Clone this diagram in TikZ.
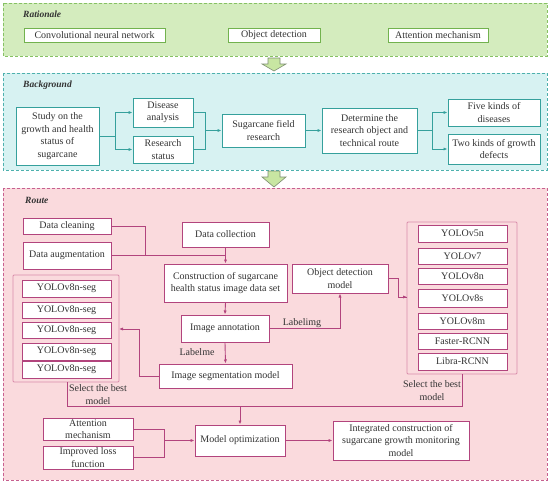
\documentclass[tikz,border=0pt]{standalone}
\usepackage{fontspec}
\setmainfont{Liberation Serif}
\usetikzlibrary{arrows.meta}
\definecolor{gfill}{HTML}{D4ECBE}
\definecolor{gline}{HTML}{86C163}
\definecolor{gbord}{HTML}{72B24E}
\definecolor{cfill}{HTML}{D7F2F2}
\definecolor{cline}{HTML}{4DB0AD}
\definecolor{cbord}{HTML}{35A09C}
\definecolor{pfill}{HTML}{FADADD}
\definecolor{pline}{HTML}{C7608F}
\definecolor{pbord}{HTML}{B2447D}
\definecolor{pgrp}{HTML}{D98DAB}
\definecolor{afill}{HTML}{C8E6A2}
\definecolor{aline}{HTML}{7E8E72}
\definecolor{txt}{HTML}{333333}
\tikzset{
  panel/.style={line width=0.8pt, dash pattern=on 3pt off 2pt},
  bx/.style={draw, fill=white, line width=1pt, inner sep=1pt, align=center, text=txt,
    font=\fontsize{10}{12.5}\selectfont},
  gbx/.style={bx, draw=gbord},
  tbx/.style={bx, draw=cbord},
  pbx/.style={bx, draw=pbord},
  ptitle/.style={anchor=west, inner sep=0pt, text=txt, font=\fontsize{9.5}{11}\selectfont\bfseries\itshape},
  lbl/.style={inner sep=0pt, text=txt, align=center, font=\fontsize{10}{12.5}\selectfont},
  tline/.style={draw=cbord, line width=0.9pt},
  tarr/.style={tline, -{Latex[length=4pt,width=3.2pt]}},
  pline/.style={draw=pbord, line width=0.9pt},
  parr/.style={pline, -{Latex[length=4pt,width=3.2pt]}},
  grp/.style={draw=pgrp, line width=0.8pt, rounded corners=1pt},
  blockarrow/.style={fill=afill, draw=aline, line width=0.6pt, line join=miter}
}
\begin{document}
\begin{tikzpicture}[x=1pt,y=-1pt]
\useasboundingbox (0,0) rectangle (550,483);
% ---------------- Rationale ----------------
\draw[panel, fill=gfill, draw=gline] (3,3) rectangle (547,56);
\node[ptitle] (trat) at (23,14) {Rationale};
\node[gbx, minimum width=141pt, minimum height=14pt] (r1) at (94.5,35) {Convolutional neural network};
\node[gbx, minimum width=92pt, minimum height=14pt] (r2) at (274,35) {Object detection};
\node[gbx, minimum width=100pt, minimum height=14pt] (r3) at (438,35) {Attention mechanism};
% arrow 1
\draw[blockarrow] (268,58) -- (280,58) -- (280,64) -- (286,64) -- (274,71) -- (262,64) -- (268,64) -- cycle;
% ---------------- Background ----------------
\draw[panel, fill=cfill, draw=cline] (3,73) rectangle (547,170);
\node[ptitle] (tbg) at (23,85) {Background};
\node[tbx, minimum width=83pt, minimum height=58pt] (study) at (57.5,136) {Study on the\\growth and health\\status of\\sugarcane};
\node[tbx, minimum width=60pt, minimum height=29pt] (dis) at (163,112.5) {Disease\\analysis};
\node[tbx, minimum width=60pt, minimum height=27pt] (res) at (163,149.5) {Research\\status};
\node[tbx, minimum width=83pt, minimum height=33pt] (sug) at (263.5,130.5) {Sugarcane field\\research};
\node[tbx, minimum width=95pt, minimum height=45pt] (det) at (369.5,130.5) {Determine the\\research object and\\technical route};
\node[tbx, minimum width=92pt, minimum height=27pt] (five) at (494,112.5) {Five kinds of\\diseases};
\node[tbx, minimum width=92pt, minimum height=30pt] (two) at (494,149) {Two kinds of growth\\defects};
\coordinate (bs) at (115,136);
\coordinate (bj) at (205,130.5);
\coordinate (bd) at (432,130.5);
\draw[tline] (study.east) -- (bs);
\draw[tarr] (bs) |- (dis.west);
\draw[tarr] (bs) |- (res.west);
\draw[tline] (dis.east) -| (bj);
\draw[tline] (res.east) -| (bj);
\draw[tarr] (bj) -- (sug.west);
\draw[tarr] (sug.east) -- (det.west);
\draw[tline] (det.east) -- (bd);
\draw[tarr] (bd) |- (five.west);
\draw[tarr] (bd) |- (two.west);
% arrow 2
\draw[blockarrow] (268,171) -- (280,171) -- (280,177) -- (286,177) -- (274,187) -- (262,177) -- (268,177) -- cycle;
% ---------------- Route ----------------
\draw[panel, fill=pfill, draw=pline] (3,188) rectangle (547,480);
\node[ptitle] (trt) at (25,200) {Route};
\node[pbx, minimum width=88pt, minimum height=16pt] (dclean) at (67,226) {Data cleaning};
\node[pbx, minimum width=88pt, minimum height=27pt] (daug) at (67,255.5) {Data augmentation};
\node[pbx, minimum width=87pt, minimum height=25pt] (dcoll) at (225.5,234.5) {Data collection};
\node[pbx, minimum width=123pt, minimum height=38pt] (constr) at (225.5,283) {Construction of sugarcane\\health status image data set};
\node[pbx, minimum width=88pt, minimum height=27pt] (annot) at (225,328.5) {Image annotation};
\node[pbx, minimum width=96pt, minimum height=29pt] (objdet) at (340,278.5) {Object detection\\model};
\node[pbx, minimum width=133pt, minimum height=24pt] (seg) at (225.5,376) {Image segmentation model};
% left group
\draw[grp] (13,275) rectangle (119,382);
\coordinate (lgE) at (119,329);
\coordinate (lgS) at (67,382);
\node[pbx, minimum width=89pt, minimum height=17pt] (ls1) at (66.5,288.5) {YOLOv8n-seg};
\node[pbx, minimum width=89pt, minimum height=16pt] (ls2) at (66.5,310) {YOLOv8n-seg};
\node[pbx, minimum width=89pt, minimum height=16pt] (ls3) at (66.5,330) {YOLOv8n-seg};
\node[pbx, minimum width=89pt, minimum height=17pt] (ls4) at (66.5,351.5) {YOLOv8n-seg};
\node[pbx, minimum width=89pt, minimum height=17pt] (ls5) at (66.5,369.5) {YOLOv8n-seg};
% right group
\draw[grp] (407,222) rectangle (517,374);
\coordinate (rgW) at (407,297);
\coordinate (rgS) at (462,374);
\node[pbx, minimum width=89pt, minimum height=17pt] (y1) at (462.5,233.5) {YOLOv5n};
\node[pbx, minimum width=89pt, minimum height=16pt] (y2) at (462.5,256) {YOLOv7};
\node[pbx, minimum width=89pt, minimum height=16pt] (y3) at (462.5,276) {YOLOv8n};
\node[pbx, minimum width=89pt, minimum height=18pt] (y4) at (462.5,298) {YOLOv8s};
\node[pbx, minimum width=89pt, minimum height=16pt] (y5) at (462.5,321) {YOLOv8m};
\node[pbx, minimum width=89pt, minimum height=16pt] (y6) at (462.5,341) {Faster-RCNN};
\node[pbx, minimum width=89pt, minimum height=17pt] (y7) at (462.5,361.5) {Libra-RCNN};
% bottom
\node[pbx, minimum width=90pt, minimum height=31pt] (mopt) at (240,440.5) {Model optimization};
\node[pbx, minimum width=90pt, minimum height=22pt] (attn) at (88,429) {Attention\\mechanism};
\node[pbx, minimum width=90pt, minimum height=23pt] (loss) at (88,457.5) {Improved loss\\function};
\node[pbx, minimum width=136pt, minimum height=39pt] (integ) at (401,440.5) {Integrated construction of\\sugarcane growth monitoring\\model};
% labels
\node[lbl] (lme) at (197,352) {Labelme};
\node[lbl] (lim) at (302,323) {Labelimg};
\node[lbl] (sbl) at (98,394.5) {Select the best\\model};
\node[lbl] (sbr) at (432,390.5) {Select the best\\model};
% route connectors
\coordinate (rj) at (225.5,255.5);
\coordinate (rc) at (145,226);
\draw[pline] (dclean.east) -- (rc) |- (rj);
\draw[pline] (daug.east) -- (rj);
\draw[pline] (dcoll.south) -- (rj);
\draw[parr] (rj) -- (constr.north);
\draw[parr] (constr.south) -- (annot.north);
\draw[parr] (annot.south) -- (seg.north);
\coordinate (ao) at (340,328.5);
\draw[pline] (annot.east) -- (ao);
\draw[parr] (ao) -- (objdet.south);
\coordinate (oa) at (398,278.5);
\draw[pline] (objdet.east) -- (oa) |- (rgW);
\draw[parr] (398,297) -- (rgW);
\coordinate (sa) at (139,376);
\draw[pline] (seg.west) -- (sa);
\draw[parr] (sa) |- (lgE);
\coordinate (mj) at (240,406);
\draw[pline] (lgS) |- (mj);
\draw[pline] (rgS) |- (mj);
\draw[parr] (mj) -- (mopt.north);
\coordinate (aj) at (164,440.5);
\draw[pline] (attn.east) -| (aj);
\draw[pline] (loss.east) -| (aj);
\draw[parr] (aj) -- (mopt.west);
\draw[parr] (mopt.east) -- (integ.west);
\end{tikzpicture}
\end{document}
